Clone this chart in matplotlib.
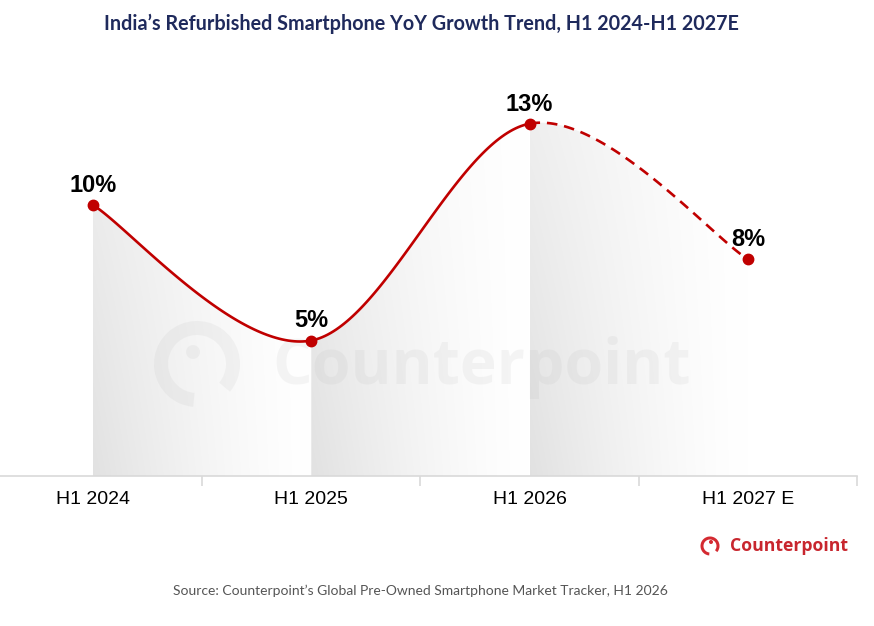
import numpy as np
import matplotlib
matplotlib.use("Agg")
import matplotlib.pyplot as plt
import matplotlib.patches as mpatches
import matplotlib.transforms as mtransforms
from matplotlib.path import Path

categories = ["H1 2024", "H1 2025", "H1 2026", "H1 2027 E"]
growth = [10, 5, 13, 8]
value_labels = ["10%", "5%", "13%", "8%"]
forecast_from = 2  # segment from H1 2026 onward is an estimate

RED = "#c00000"
GRID = "#d9d9d9"
W, H = 874, 626

fig = plt.figure(figsize=(W / 100, H / 100), dpi=100)
fig.patch.set_facecolor("white")

# pixel helpers (top-left origin)
pix = mtransforms.Affine2D().scale(1, -1).translate(0, H)


def hermite_curve(xs, ys, n=80):
    '''Catmull-Rom style smoothing, one array of points per segment'''
    P = np.column_stack([xs, ys]).astype(float)
    T = np.zeros_like(P)
    T[1:-1] = (P[2:] - P[:-2]) / 2
    T[0] = (P[1] - P[0]) / 2
    T[-1] = (P[-1] - P[-2]) / 2
    t = np.linspace(0, 1, n)[:, None]
    h00 = 2 * t**3 - 3 * t**2 + 1
    h10 = t**3 - 2 * t**2 + t
    h01 = -2 * t**3 + 3 * t**2
    h11 = t**3 - t**2
    segs = []
    for i in range(len(P) - 1):
        segs.append(h00 * P[i] + h10 * T[i] + h01 * P[i + 1] + h11 * T[i + 1])
    return segs


x = np.arange(len(categories))
segs = hermite_curve(x, growth)

ymax = 15
ax = fig.add_axes([0, (H - 476) / H, 857 / W, (476 - 69.5) / H])
ax.set_xlim(-0.426, 3.5)
ax.set_ylim(0, ymax)
ax.set_facecolor("none")

# gradient fills under each segment
for i, seg in enumerate(segs):
    x0, x1 = x[i], x[i + 1]
    u = np.linspace(0, 1, 200)[None, :]
    v = np.linspace(0, 1, 120)[:, None]
    g = 1 - 0.115 * (1 - u) ** 1.4 * (1 - 0.5 * v)
    img = np.dstack([g, g, g])
    verts = np.vstack([[x0, 0], seg, [x1, 0], [x0, 0]])
    clip = mpatches.PathPatch(Path(verts), transform=ax.transData,
                              facecolor="none", edgecolor="none")
    ax.add_patch(clip)
    im = ax.imshow(img, extent=[x0, x1, 0, ymax], origin="lower",
                   aspect="auto", zorder=1, interpolation="bilinear")
    im.set_clip_path(clip)

# watermark
wm_col = "#b0b0b0"
wm_alpha = 0.12
ring = mpatches.Wedge((197, 364), 43, 95, 400, width=14, transform=pix,
                      facecolor=wm_col, edgecolor="none", alpha=wm_alpha,
                      zorder=2, clip_on=False)
ax.add_patch(ring)
ax.add_patch(mpatches.Circle((193, 352), 7, transform=pix, facecolor=wm_col,
                             edgecolor="none", alpha=wm_alpha, zorder=2,
                             clip_on=False))
ax.text(272, 384, "Counterpoint", transform=pix, fontsize=45,
        family="Open Sans", weight="bold", color=wm_col, alpha=wm_alpha,
        ha="left", va="baseline", zorder=2, clip_on=False)

# line
for i, seg in enumerate(segs):
    if i >= forecast_from:
        ax.plot(seg[:, 0], seg[:, 1], color=RED, lw=1.9, zorder=4,
                dashes=(4, 2.6), solid_capstyle="butt")
    else:
        ax.plot(seg[:, 0], seg[:, 1], color=RED, lw=1.9, zorder=4)
ax.plot(x, growth, "o", color=RED, ms=7.5, zorder=5, clip_on=False)

for xi, yi, lab in zip(x, growth, value_labels):
    ax.annotate(lab, (xi, yi), xytext=(0, 9.5), textcoords="offset points",
                ha="center", va="baseline", fontsize=17, weight="bold",
                family="Liberation Sans", color="black", zorder=6)

# axes styling
for s in ["top", "right", "left"]:
    ax.spines[s].set_visible(False)
ax.spines["bottom"].set_color(GRID)
ax.spines["bottom"].set_linewidth(1.2)
ax.set_yticks([])
ax.set_xticks(x)
ax.set_xticklabels(categories, fontsize=14, family="Liberation Sans",
                   color="black")
ax.tick_params(axis="x", which="major", length=0, pad=11)
ax.set_xticks([0.5, 1.5, 2.5, 3.5], minor=True)
ax.tick_params(axis="x", which="minor", length=7, color=GRID, width=1.2)

# title and source
fig.text(421 / W, 1 - 24 / H,
         "India\u2019s Refurbished Smartphone YoY Growth Trend, H1 2024-H1 2027E",
         ha="center", va="center", fontsize=14.2, family="Lato",
         weight="bold", color="#1f2a5c")
fig.text(420 / W, 1 - 591 / H,
         "Source: Counterpoint\u2019s Global Pre-Owned Smartphone Market Tracker, H1 2026",
         ha="center", va="center", fontsize=10, family="Lato", color="#555555")

# bottom-right brand mark
LOGO = "#d42a31"
ax.add_patch(mpatches.Wedge((710, 546), 9.5, 95, 400, width=3, transform=pix,
                            facecolor=LOGO, edgecolor="none", zorder=6,
                            clip_on=False))
ax.add_patch(mpatches.Circle((711, 542), 2, transform=pix, facecolor=LOGO,
                             edgecolor="none", zorder=6, clip_on=False))
ax.text(730, 551, "Counterpoint", transform=pix, fontsize=12.7,
        family="Open Sans", weight="bold", color="#c8262e", ha="left",
        va="baseline", zorder=6, clip_on=False)

fig.savefig("out.png", dpi=100, facecolor="white")
